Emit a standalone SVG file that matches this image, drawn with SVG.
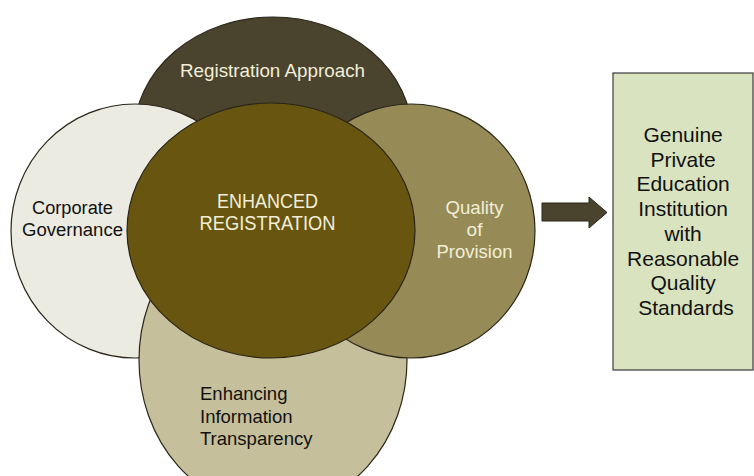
<svg xmlns="http://www.w3.org/2000/svg" width="754" height="476" viewBox="0 0 754 476">
<style>
.el{stroke:#2b2618;stroke-width:1.2}
.t{font-family:"Liberation Sans",Arial,sans-serif}
.lt{fill:#f2eed8}
.dk{fill:#111111}
</style>
<rect width="754" height="476" fill="#ffffff"/>
<g id="registration-approach">
<ellipse class="el" cx="273" cy="135" rx="139" ry="118" fill="#4a432e"/>
<text class="t lt" x="272.5" y="77" font-size="18.5" text-anchor="middle" textLength="185" lengthAdjust="spacingAndGlyphs">Registration Approach</text>
</g>
<g id="corporate-governance">
<ellipse class="el" cx="135" cy="231" rx="124" ry="127" fill="#ecebe1"/>
</g>
<g id="enhancing-information-transparency">
<ellipse class="el" cx="273" cy="360" rx="134" ry="150" fill="#c6bf9b"/>
<text class="t dk" x="200" y="400" font-size="18.5">Enhancing</text>
<text class="t dk" x="200" y="423" font-size="18.5">Information</text>
<text class="t dk" x="200" y="445" font-size="18.5">Transparency</text>
</g>
<g id="quality-of-provision">
<ellipse class="el" cx="411" cy="231" rx="124" ry="127" fill="#968b57"/>
<text class="t lt" x="474.5" y="214" font-size="19" text-anchor="middle" textLength="58" lengthAdjust="spacingAndGlyphs">Quality</text>
<text class="t lt" x="474.5" y="236" font-size="19" text-anchor="middle">of</text>
<text class="t lt" x="474.5" y="258" font-size="19" text-anchor="middle" textLength="76" lengthAdjust="spacingAndGlyphs">Provision</text>
</g>
<g id="corporate-governance-label">
<text class="t dk" x="72.5" y="214" font-size="18" text-anchor="middle" textLength="81" lengthAdjust="spacingAndGlyphs">Corporate</text>
<text class="t dk" x="72.5" y="236" font-size="18" text-anchor="middle" textLength="101" lengthAdjust="spacingAndGlyphs">Governance</text>
</g>
<g id="enhanced-registration">
<ellipse class="el" cx="271" cy="230.5" rx="144" ry="127.5" fill="#675510"/>
<text class="t lt" x="267.5" y="208" font-size="20" text-anchor="middle" textLength="101" lengthAdjust="spacingAndGlyphs">ENHANCED</text>
<text class="t lt" x="267.5" y="230" font-size="20" text-anchor="middle" textLength="136" lengthAdjust="spacingAndGlyphs">REGISTRATION</text>
</g>
<g id="connectors">
<path d="M542,203 H589 V197 L607,212.5 L589,228 V221 H542 Z" fill="#4a432e" stroke="#2b2618" stroke-width="1"/>
</g>
<g id="outcome">
<rect x="613" y="73" width="140" height="297" fill="#d9e3c0" stroke="#3a3a3a" stroke-width="1.2"/>
<text class="t dk" font-size="21" text-anchor="middle">
<tspan x="686" y="142">Genuine</tspan>
<tspan x="686" y="166.7">Private</tspan>
<tspan x="686" y="191.4">Education</tspan>
<tspan x="686" y="216.1">Institution</tspan>
<tspan x="686" y="240.8">with</tspan>
<tspan x="686" y="265.5">Reasonable</tspan>
<tspan x="686" y="290.2">Quality</tspan>
<tspan x="686" y="314.9">Standards</tspan>
</text>
</g>
</svg>
